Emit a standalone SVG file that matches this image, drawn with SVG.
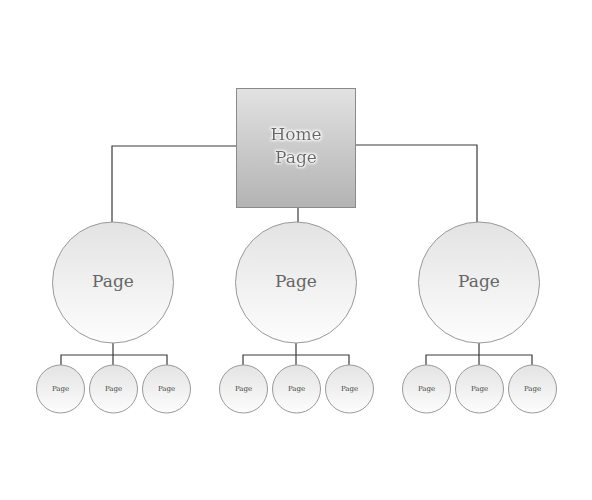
<svg xmlns="http://www.w3.org/2000/svg" width="592" height="500" viewBox="0 0 592 500">
<defs>
<linearGradient id="gBox" x1="0" y1="0" x2="0" y2="1">
<stop offset="0" stop-color="#e2e2e2"/>
<stop offset="1" stop-color="#b3b3b3"/>
</linearGradient>
<linearGradient id="gCirc" x1="0" y1="0" x2="0" y2="1">
<stop offset="0" stop-color="#e3e3e3"/>
<stop offset="1" stop-color="#fdfdfd"/>
</linearGradient>
<filter id="wglow" x="-20%" y="-30%" width="140%" height="160%">
<feMorphology in="SourceAlpha" operator="dilate" radius="1" result="d"/>
<feGaussianBlur in="d" stdDeviation="1" result="b"/>
<feFlood flood-color="#ffffff" flood-opacity="0.9"/>
<feComposite in2="b" operator="in" result="w"/>
<feMerge><feMergeNode in="w"/><feMergeNode in="SourceGraphic"/></feMerge>
</filter>
</defs>
<style>
.conn{fill:none;stroke:#3a3a3a;stroke-width:1.2}
.box{fill:url(#gBox);stroke:#8a8a8a;stroke-width:1}
.big{fill:url(#gCirc);stroke:#999;stroke-width:1}
.small{fill:url(#gCirc);stroke:#999;stroke-width:1}
.lbl{font-family:"DejaVu Serif","Liberation Serif",serif;fill:#666;text-anchor:middle}
.home{font-size:17px;filter:url(#wglow)}
.bl{font-size:17px}
.sl{font-size:7px;fill:#444}
</style>
<g id="connectors">
<polyline class="conn" points="236,146 112,146 112,222"/>
<polyline class="conn" points="356,145 477,145 477,222"/>
<line class="conn" x1="298" y1="207" x2="298" y2="222"/>
<line class="conn" x1="113" y1="343" x2="113" y2="365"/>
<polyline class="conn" points="61,365 61,355 167,355 167,365"/>
<line class="conn" x1="296" y1="343" x2="296" y2="365"/>
<polyline class="conn" points="243,365 243,355 349,355 349,365"/>
<line class="conn" x1="479" y1="343" x2="479" y2="365"/>
<polyline class="conn" points="426,365 426,355 532,355 532,365"/>
</g>
<g id="home">
<rect class="box" x="236.5" y="88.5" width="119" height="119"/>
<text class="lbl home" x="296" y="140">Home</text>
<text class="lbl home" x="296" y="163">Page</text>
</g>
<g id="page1">
<circle class="big" cx="113" cy="282.5" r="60.5"/>
<text class="lbl bl" x="113" y="287">Page</text>
</g>
<g id="page2">
<circle class="big" cx="296" cy="282.5" r="60.5"/>
<text class="lbl bl" x="296" y="287">Page</text>
</g>
<g id="page3">
<circle class="big" cx="479" cy="282.5" r="60.5"/>
<text class="lbl bl" x="479" y="287">Page</text>
</g>
<g id="page1a"><circle class="small" cx="60.5" cy="389" r="24"/><text class="lbl sl" x="60.5" y="391">Page</text></g>
<g id="page1b"><circle class="small" cx="113.5" cy="389" r="24"/><text class="lbl sl" x="113.5" y="391">Page</text></g>
<g id="page1c"><circle class="small" cx="166.5" cy="389" r="24"/><text class="lbl sl" x="166.5" y="391">Page</text></g>
<g id="page2a"><circle class="small" cx="243.5" cy="389" r="24"/><text class="lbl sl" x="243.5" y="391">Page</text></g>
<g id="page2b"><circle class="small" cx="296.5" cy="389" r="24"/><text class="lbl sl" x="296.5" y="391">Page</text></g>
<g id="page2c"><circle class="small" cx="349.5" cy="389" r="24"/><text class="lbl sl" x="349.5" y="391">Page</text></g>
<g id="page3a"><circle class="small" cx="426.5" cy="389" r="24"/><text class="lbl sl" x="426.5" y="391">Page</text></g>
<g id="page3b"><circle class="small" cx="479.5" cy="389" r="24"/><text class="lbl sl" x="479.5" y="391">Page</text></g>
<g id="page3c"><circle class="small" cx="532.5" cy="389" r="24"/><text class="lbl sl" x="532.5" y="391">Page</text></g>
</svg>
